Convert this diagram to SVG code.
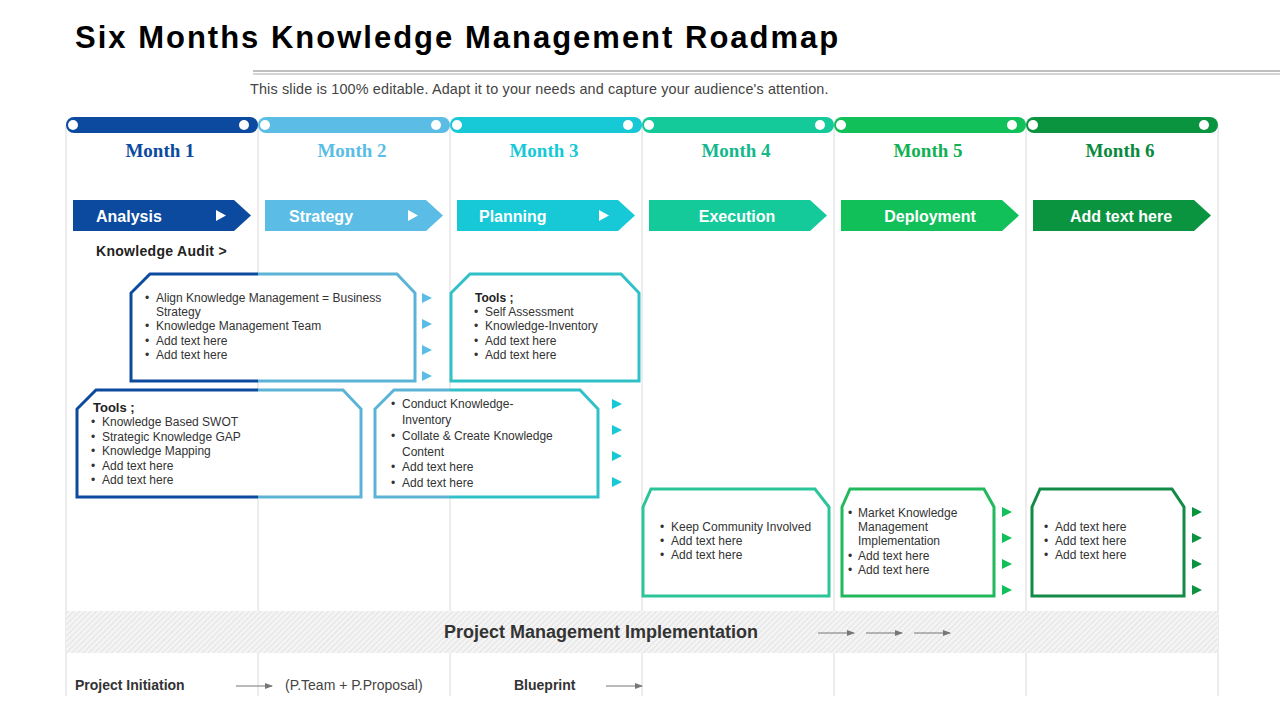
<svg xmlns="http://www.w3.org/2000/svg" width="1280" height="720" viewBox="0 0 1280 720">
<defs>
<style>
.t{font-family:"Liberation Sans",Arial,sans-serif}
.mo{font-family:"Liberation Serif","Times New Roman",serif;font-weight:bold;font-size:19px;text-anchor:middle}
.ph{font-family:"Liberation Sans",Arial,sans-serif;font-weight:bold;font-size:16px;fill:#fff}
.b{font-family:"Liberation Sans",Arial,sans-serif;font-size:12px;fill:#333}
.bx{fill:#fff;stroke-width:3}
.vl{stroke:#d9d9d9;stroke-width:1}
.ga{stroke:#777;stroke-width:1.2;fill:none;marker-end:url(#ah)}
</style>
<marker id="ah" markerWidth="8" markerHeight="8" refX="7" refY="4" orient="auto" markerUnits="userSpaceOnUse"><path d="M0,1 L8,4 L0,7 z" fill="#777"/></marker>
<pattern id="hatch" width="4" height="4" patternUnits="userSpaceOnUse" patternTransform="rotate(45)"><rect width="4" height="4" fill="#f4f4f4"/><line x1="0" y1="0" x2="0" y2="4" stroke="#dedede" stroke-width="1.5"/></pattern>
<linearGradient id="gA" gradientUnits="userSpaceOnUse" x1="0" y1="0" x2="1280" y2="0"><stop offset="0.2016" stop-color="#0b4a9e"/><stop offset="0.2016" stop-color="#5bb4d6"/></linearGradient>
<linearGradient id="gD" gradientUnits="userSpaceOnUse" x1="0" y1="0" x2="1280" y2="0"><stop offset="0.3516" stop-color="#5bb4d6"/><stop offset="0.3516" stop-color="#2fc0c8"/></linearGradient>
</defs>
<rect width="1280" height="720" fill="#fff"/>
<text x="75" y="48" class="t" font-size="31" font-weight="bold" fill="#000" letter-spacing="2">Six Months Knowledge Management Roadmap</text>
<line x1="253" y1="71" x2="1280" y2="71" stroke="#aaa" stroke-width="1.5"/>
<line x1="253" y1="74" x2="1280" y2="74" stroke="#aaa" stroke-width="1"/>
<text x="250" y="94" class="t" font-size="14.4" fill="#444" letter-spacing="0.15">This slide is 100% editable. Adapt it to your needs and capture your audience's attention.</text>
<g id="grid">
<line class="vl" x1="66" y1="125" x2="66" y2="696"/><line class="vl" x1="258" y1="125" x2="258" y2="696"/><line class="vl" x1="450" y1="125" x2="450" y2="696"/><line class="vl" x1="642" y1="125" x2="642" y2="696"/><line class="vl" x1="834" y1="125" x2="834" y2="696"/><line class="vl" x1="1026" y1="125" x2="1026" y2="696"/><line class="vl" x1="1218" y1="125" x2="1218" y2="696"/>
</g>
<g id="pmBand">
<rect x="66" y="611" width="1152" height="42" fill="url(#hatch)"/>
<text x="601" y="638" class="t" font-size="18" font-weight="bold" fill="#333" text-anchor="middle">Project Management Implementation</text>
</g>
<g id="bars">
<rect x="66" y="117" width="192" height="16" rx="8" fill="#0b4a9e"/><circle cx="73" cy="125" r="5" fill="#fff"/><circle cx="244" cy="125" r="5" fill="#fff"/>
<rect x="258" y="117" width="192" height="16" rx="8" fill="#5bbde6"/><circle cx="265" cy="125" r="5" fill="#fff"/><circle cx="436" cy="125" r="5" fill="#fff"/>
<rect x="450" y="117" width="192" height="16" rx="8" fill="#17c9d6"/><circle cx="457" cy="125" r="5" fill="#fff"/><circle cx="628" cy="125" r="5" fill="#fff"/>
<rect x="642" y="117" width="192" height="16" rx="8" fill="#14c99a"/><circle cx="649" cy="125" r="5" fill="#fff"/><circle cx="820" cy="125" r="5" fill="#fff"/>
<rect x="834" y="117" width="192" height="16" rx="8" fill="#12c05a"/><circle cx="841" cy="125" r="5" fill="#fff"/><circle cx="1012" cy="125" r="5" fill="#fff"/>
<rect x="1026" y="117" width="192" height="16" rx="8" fill="#0a9440"/><circle cx="1033" cy="125" r="5" fill="#fff"/><circle cx="1204" cy="125" r="5" fill="#fff"/>
</g>
<g id="months">
<text x="160" y="157" class="mo" fill="#0b4a9e">Month 1</text>
<text x="352" y="157" class="mo" fill="#5bbde6">Month 2</text>
<text x="544" y="157" class="mo" fill="#17c9d6">Month 3</text>
<text x="736" y="157" class="mo" fill="#14b88c">Month 4</text>
<text x="928" y="157" class="mo" fill="#12b052">Month 5</text>
<text x="1120" y="157" class="mo" fill="#0a8a3c">Month 6</text>
</g>
<g id="phases">
<path d="M73,200 H234 L251,215.5 L234,231 H73 Z" fill="#0b4a9e"/><text x="96" y="222" class="ph">Analysis</text><path d="M216,210 L226,215.5 L216,221 Z" fill="#fff"/>
<path d="M265,200 H426 L443,215.5 L426,231 H265 Z" fill="#5bbde6"/><text x="289" y="222" class="ph">Strategy</text><path d="M408,210 L418,215.5 L408,221 Z" fill="#fff"/>
<path d="M457,200 H618 L635,215.5 L618,231 H457 Z" fill="#17c9d6"/><text x="479" y="222" class="ph">Planning</text><path d="M599,210 L609,215.5 L599,221 Z" fill="#fff"/>
<path d="M649,200 H810 L827,215.5 L810,231 H649 Z" fill="#14c99a"/><text x="737" y="222" class="ph" text-anchor="middle">Execution</text>
<path d="M841,200 H1002 L1019,215.5 L1002,231 H841 Z" fill="#12c05a"/><text x="930" y="222" class="ph" text-anchor="middle">Deployment</text>
<path d="M1033,200 H1194 L1211,215.5 L1194,231 H1033 Z" fill="#0a9440"/><text x="1121" y="222" class="ph" text-anchor="middle">Add text here</text>
</g>
<text x="96" y="256" class="t" font-size="14" font-weight="bold" fill="#222" letter-spacing="0.3">Knowledge Audit &gt;</text>
<g id="boxA">
<path class="bx" stroke="url(#gA)" d="M131,381 V293 L150,274 H397 L415,293 V381 Z"/>
<text class="b"><tspan x="145" y="302">•</tspan><tspan x="156" y="302">Align Knowledge Management = Business</tspan><tspan x="156" y="316">Strategy</tspan><tspan x="145" y="330">•</tspan><tspan x="156" y="330">Knowledge Management Team</tspan><tspan x="145" y="345">•</tspan><tspan x="156" y="345">Add text here</tspan><tspan x="145" y="359">•</tspan><tspan x="156" y="359">Add text here</tspan></text>
</g>
<g id="boxB">
<path class="bx" stroke="url(#gA)" d="M77,497 V409 L96,390 H343 L361,409 V497 Z"/>
<text class="b"><tspan x="93" y="412" font-weight="bold" font-size="13" fill="#222">Tools ;</tspan><tspan x="91" y="426">•</tspan><tspan x="102" y="426">Knowledge Based SWOT</tspan><tspan x="91" y="441">•</tspan><tspan x="102" y="441">Strategic Knowledge GAP</tspan><tspan x="91" y="455">•</tspan><tspan x="102" y="455">Knowledge Mapping</tspan><tspan x="91" y="470">•</tspan><tspan x="102" y="470">Add text here</tspan><tspan x="91" y="484">•</tspan><tspan x="102" y="484">Add text here</tspan></text>
</g>
<g id="boxC">
<path class="bx" stroke="#2fc0c8" d="M451,381 V293 L470,274 H621 L639,293 V381 Z"/>
<text class="b"><tspan x="475" y="302" font-weight="bold" fill="#222">Tools ;</tspan><tspan x="474" y="316">•</tspan><tspan x="485" y="316">Self Assessment</tspan><tspan x="474" y="330">•</tspan><tspan x="485" y="330">Knowledge-Inventory</tspan><tspan x="474" y="345">•</tspan><tspan x="485" y="345">Add text here</tspan><tspan x="474" y="359">•</tspan><tspan x="485" y="359">Add text here</tspan></text>
</g>
<g id="boxD">
<path class="bx" stroke="url(#gD)" d="M375,497 V409 L394,390 H580 L598,409 V497 Z"/>
<text class="b"><tspan x="391" y="408">•</tspan><tspan x="402" y="408">Conduct  Knowledge-</tspan><tspan x="402" y="424">Inventory</tspan><tspan x="391" y="440">•</tspan><tspan x="402" y="440">Collate  &amp; Create  Knowledge</tspan><tspan x="402" y="456">Content</tspan><tspan x="391" y="471">•</tspan><tspan x="402" y="471">Add text here</tspan><tspan x="391" y="487">•</tspan><tspan x="402" y="487">Add text here</tspan></text>
</g>
<g id="boxE">
<path class="bx" stroke="#2cc59a" d="M643,596 V507 L651,489 H815 L829,507 V596 Z"/>
<text class="b"><tspan x="660" y="531">•</tspan><tspan x="671" y="531">Keep Community Involved</tspan><tspan x="660" y="545">•</tspan><tspan x="671" y="545">Add text here</tspan><tspan x="660" y="559">•</tspan><tspan x="671" y="559">Add text here</tspan></text>
</g>
<g id="boxF">
<path class="bx" stroke="#22b85c" d="M842,596 V507 L850,489 H984 L994,507 V596 Z"/>
<text class="b"><tspan x="848" y="517">•</tspan><tspan x="858" y="517">Market Knowledge</tspan><tspan x="858" y="531">Management</tspan><tspan x="858" y="545">Implementation</tspan><tspan x="848" y="560">•</tspan><tspan x="858" y="560">Add text here</tspan><tspan x="848" y="574">•</tspan><tspan x="858" y="574">Add text here</tspan></text>
</g>
<g id="boxG">
<path class="bx" stroke="#138a45" d="M1032,596 V507 L1040,489 H1172 L1184,507 V596 Z"/>
<text class="b"><tspan x="1044" y="531">•</tspan><tspan x="1055" y="531">Add text here</tspan><tspan x="1044" y="545">•</tspan><tspan x="1055" y="545">Add text here</tspan><tspan x="1044" y="559">•</tspan><tspan x="1055" y="559">Add text here</tspan></text>
</g>
<g id="connectors">
<g fill="#5bbde6"><path d="M422,293 L432,298 L422,303Z"/><path d="M422,319 L432,324 L422,329Z"/><path d="M422,345 L432,350 L422,355Z"/><path d="M422,371 L432,376 L422,381Z"/></g>
<g fill="#17c9d6"><path d="M612,399 L622,404 L612,409Z"/><path d="M612,425 L622,430 L612,435Z"/><path d="M612,451 L622,456 L612,461Z"/><path d="M612,477 L622,482 L612,487Z"/></g>
<g fill="#12c05a"><path d="M1002,507 L1012,512 L1002,517Z"/><path d="M1002,533 L1012,538 L1002,543Z"/><path d="M1002,559 L1012,564 L1002,569Z"/><path d="M1002,585 L1012,590 L1002,595Z"/></g>
<g fill="#0a9440"><path d="M1192,507 L1202,512 L1192,517Z"/><path d="M1192,533 L1202,538 L1192,543Z"/><path d="M1192,559 L1202,564 L1192,569Z"/><path d="M1192,585 L1202,590 L1192,595Z"/></g>
<line class="ga" x1="818" y1="633" x2="854" y2="633"/><line class="ga" x1="866" y1="633" x2="902" y2="633"/><line class="ga" x1="914" y1="633" x2="950" y2="633"/>
<line class="ga" x1="236" y1="686" x2="272" y2="686"/><line class="ga" x1="606" y1="686" x2="642" y2="686"/>
</g>
<text x="75" y="690" class="t" font-size="14" font-weight="bold" fill="#333">Project Initiation</text>
<text x="285" y="690" class="t" font-size="14" fill="#444">(P.Team + P.Proposal)</text>
<text x="514" y="690" class="t" font-size="14" font-weight="bold" fill="#333">Blueprint</text>
</svg>
